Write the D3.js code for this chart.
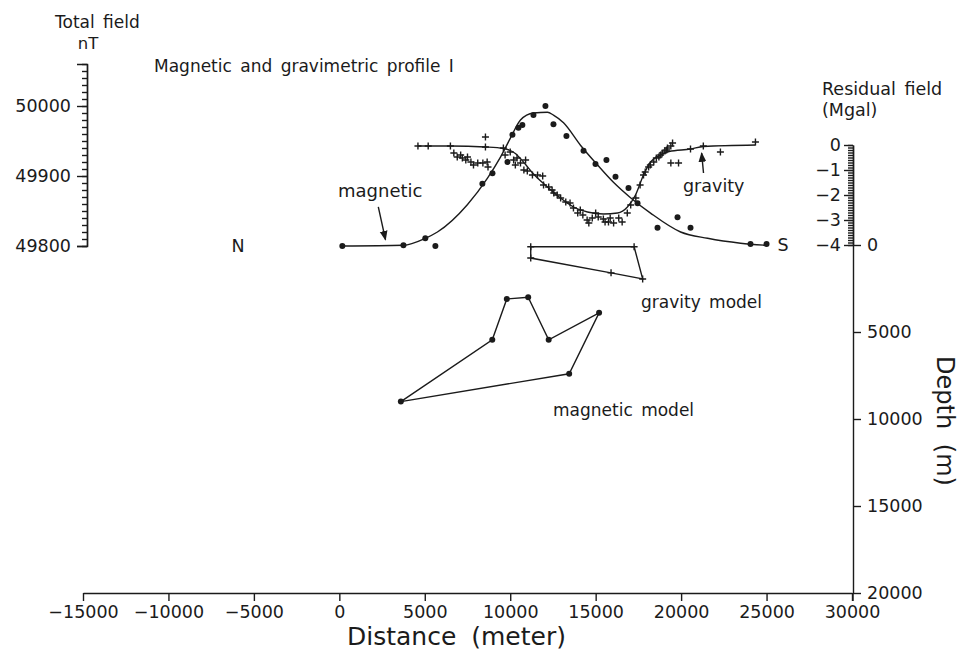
<!DOCTYPE html>
<html>
<head>
<meta charset="utf-8">
<script src="https://cdn.jsdelivr.net/npm/d3@7"></script>
<style>
  body { margin: 0; background: #fff; }
  #container { width: 963px; height: 652px; position: relative; }
  svg text { font-family: "DejaVu Sans", sans-serif; fill: #1b1b1b; }
  .axis path, .axis line { stroke: #1b1b1b; stroke-width: 1.4; }
</style>
</head>
<body>
<div id="container"></div>
<script>
// tick values
const distanceTicks = [-15000, -10000, -5000, 0, 5000, 10000, 15000, 20000, 25000, 30000];
const fieldTicks = [49800, 49900, 50000];
const gravityTicks = [0, -1, -2, -3, -4];
const depthTicks = [0, 5000, 10000, 15000, 20000];

// magnetic profile: observed total field (distance m, nT)
const magneticObserved = [[176,49800],[3750,49801],[5030,49811],[5620,49800],[8370,49889],[8960,49904],
  [9840,49920],[10130,49959],[10480,49969],[10710,49973],[11360,49987],[12060,50000],[12530,49974],
  [13290,49957],[14290,49936],[14990,49917],[15630,49923],[16160,49899],[16920,49883],[17450,49861],
  [18620,49826],[19790,49841],[20550,49826],[24060,49803],[25000,49803]];

// magnetic profile: computed curve
const magneticCurve = [[176,49800],[3750,49801],[5030,49811],[5740,49820],[7490,49859],[8670,49897],
  [9430,49927],[10010,49954],[10600,49980],[11360,49990],[12180,49991],[12530,49987],[13120,49976],
  [14110,49944],[15100,49916],[16040,49891],[17040,49869],[18210,49847],[19970,49820],[21550,49811],
  [23480,49804],[25000,49801]];

// gravity profile: observed residual (distance m, mGal)
const gravityObserved = [[4600,-0.04],[5200,-0.04],[6500,-0.04],[8550,-0.08],[8550,0.32],[9600,-0.12],
  [6700,-0.32],[6900,-0.48],[7100,-0.4],[7200,-0.52],[7400,-0.6],[7500,-0.48],[7700,-0.68],[7850,-0.8],
  [8100,-0.72],[8400,-0.72],[8650,-0.68],[8700,-0.88],[9700,-0.4],[10000,-0.28],[10200,-0.6],[10400,-0.52],
  [10300,-0.8],[10600,-0.72],[10900,-0.6],[10800,-1.0],[11000,-1.04],[11300,-1.2],[11600,-1.2],[11900,-1.24],
  [11950,-1.6],[12250,-1.68],[12450,-1.8],[12550,-1.92],[12750,-2.0],[12950,-2.12],[13250,-2.28],[13500,-2.32],
  [13700,-2.52],[13950,-2.72],[14100,-2.6],[14250,-2.8],[14500,-3.0],[14600,-3.12],[14800,-2.92],[15000,-2.72],
  [15150,-2.88],[15450,-2.96],[15550,-3.08],[15750,-3.08],[15850,-2.92],[16050,-3.12],[16350,-2.92],
  [16550,-3.08],[16850,-2.72],[17050,-2.4],[17350,-2.12],[17600,-1.6],[17800,-1.2],[17900,-1.08],
  [18100,-0.88],[18200,-0.8],[18400,-0.68],[18550,-0.52],[18700,-0.48],[18800,-0.4],[18900,-0.32],
  [19050,-0.24],[19150,-0.2],[19200,-0.12],[19400,-0.04],[19500,0.08],[19400,-0.72],[19850,-0.72],
  [20550,-0.16],[21300,-0.04],[22300,-0.28],[24350,0.12]];

// gravity profile: computed curve
const gravityCurve = [[4600,-0.04],[6500,-0.04],[8550,-0.08],[9600,-0.14],[10300,-0.34],[10800,-0.7],
  [11350,-1.15],[12180,-1.68],[12940,-2.12],[13700,-2.48],[14520,-2.68],[15460,-2.76],[16280,-2.72],
  [16860,-2.48],[17330,-2.0],[17800,-1.2],[18210,-0.68],[18800,-0.4],[19300,-0.26],[20550,-0.16],
  [21310,-0.06],[24350,0]];

// model bodies (distance m, depth m)
const gravityBody = [[11200,100],[17250,100],[17750,1950],[15900,1600],[11200,750]];
const magneticBody = [[3600,9000],[8950,5450],[9800,3100],[11050,3000],[12250,5450],[15200,3900],[13450,7400]];

const container = d3.select("#container");
const width = 963, height = 652;
const svg = container.append("svg").attr("width", width).attr("height", height);

const x = d3.scaleLinear().domain([-15000, 30000]).range([83, 852]);
const yField = d3.scaleLinear().domain([49800, 50060]).range([246, 64]);
const yGrav = d3.scaleLinear().domain([-4, 0]).range([245, 145]);
const yDepth = d3.scaleLinear().domain([0, 20000]).range([245, 593]);

const ink = "#1b1b1b";

svg.append("defs").append("marker")
   .attr("id", "head")
   .attr("viewBox", "0 0 10 10")
   .attr("refX", 9).attr("refY", 5)
   .attr("markerWidth", 7).attr("markerHeight", 7)
   .attr("orient", "auto")
   .append("path").attr("d", "M0,1L10,5L0,9Z").attr("fill", ink);

// left axis: total field
const leftArea = svg.append("g").attr("class", "axis").attr("transform", "translate(87,0)");
leftArea.append("g")
  .call(d3.axisLeft(yField).tickValues(d3.range(49800, 50061, 10)).tickSize(5).tickSizeOuter(0).tickFormat(""));
leftArea.append("g")
  .call(d3.axisLeft(yField).tickValues(fieldTicks).tickSize(10).tickSizeOuter(10).tickPadding(6).tickFormat(d3.format("d")))
  .selectAll("text").style("font-size", "17.5px").attr("fill", ink);

// bottom axis: distance
const xAxisArea = svg.append("g").attr("class", "axis").attr("transform", "translate(0," + yDepth(20000) + ")");
xAxisArea.call(d3.axisBottom(x).tickValues(distanceTicks).tickSize(8).tickSizeOuter(0).tickPadding(5).tickFormat(d3.format("d")))
  .selectAll("text").style("font-size", "17.5px").attr("fill", ink);

// right axes: gravity (top) and depth (below)
const rightX = x(30000) + 1;
const gravArea = svg.append("g").attr("class", "axis").attr("transform", "translate(" + rightX + ",0)");
gravArea.append("g")
  .call(d3.axisLeft(yGrav).tickValues(d3.range(-40, 1).map(v => v / 10)).tickSize(5).tickSizeOuter(0).tickFormat(""));
gravArea.append("g")
  .call(d3.axisLeft(yGrav).tickValues(gravityTicks).tickSize(9).tickSizeOuter(0).tickPadding(3).tickFormat(d3.format("d")))
  .selectAll("text").style("font-size", "17.5px").attr("fill", ink);

const depthArea = svg.append("g").attr("class", "axis").attr("transform", "translate(" + rightX + ",0)");
depthArea.call(d3.axisRight(yDepth).tickValues(depthTicks).tickSize(8).tickSizeOuter(0).tickPadding(6).tickFormat(d3.format("d")))
  .selectAll("text").style("font-size", "17.5px").attr("fill", ink);
depthArea.append("line").attr("x1", 0).attr("x2", 0).attr("y1", yDepth(20000)).attr("y2", yDepth(20000) + 8).attr("stroke", ink).attr("stroke-width", 1.4);

// axis titles and labels
const label = (tx, ty, txt, size, anchor) =>
  svg.append("text").attr("x", tx).attr("y", ty).attr("text-anchor", anchor || "start")
     .style("font-size", size + "px").style("word-spacing", "3px").text(txt);

label(55, 28, "Total field", 17);
label(88, 49, "nT", 16.5, "middle");
label(154, 72, "Magnetic and gravimetric profile I", 17);
label(822, 95, "Residual field", 17.5);
label(822, 116, "(Mgal)", 17.5);
label(238, 252, "N", 17.5, "middle");
label(783, 251, "S", 17.5, "middle");
label(641, 308, "gravity model", 17);
label(553, 416, "magnetic model", 17);
label(338, 197, "magnetic", 18);
label(683, 192, "gravity", 17.5);
label(347, 645, "Distance (meter)", 25).style("word-spacing", "7px");
svg.append("text")
  .attr("transform", "translate(937,421) rotate(90)")
  .attr("text-anchor", "middle")
  .style("font-size", "24px").style("word-spacing", "7px")
  .text("Depth (m)");

// arrows
svg.append("line")
  .attr("x1", x(2280)).attr("y1", yField(49856)).attr("x2", x(2700)).attr("y2", yField(49809))
  .attr("stroke", ink).attr("stroke-width", 1.4).attr("marker-end", "url(#head)");
svg.append("line")
  .attr("x1", x(21310)).attr("y1", yGrav(-1.12)).attr("x2", x(21200)).attr("y2", yGrav(-0.32))
  .attr("stroke", ink).attr("stroke-width", 1.4).attr("marker-end", "url(#head)");

const plot = svg.append("g");

// computed curves
plot.append("path").datum(magneticCurve)
  .attr("d", d3.line().x(d => x(d[0])).y(d => yField(d[1])).curve(d3.curveMonotoneX))
  .attr("fill", "none").attr("stroke", ink).attr("stroke-width", 1.4);
plot.append("path").datum(gravityCurve)
  .attr("d", d3.line().x(d => x(d[0])).y(d => yGrav(d[1])).curve(d3.curveMonotoneX))
  .attr("fill", "none").attr("stroke", ink).attr("stroke-width", 1.4);

// observations
const plus = "M-3.5,0H3.5M0,-3.5V3.5";
plot.selectAll(".gobs").data(gravityObserved).join("path")
  .attr("class", "gobs")
  .attr("transform", d => "translate(" + x(d[0]) + "," + yGrav(d[1]) + ")")
  .attr("d", plus).attr("stroke", ink).attr("stroke-width", 1.4);
plot.selectAll(".mobs").data(magneticObserved).join("circle")
  .attr("class", "mobs")
  .attr("cx", d => x(d[0])).attr("cy", d => yField(d[1])).attr("r", 3).attr("fill", ink);

// model bodies
const bodyLine = d3.line().x(d => x(d[0])).y(d => yDepth(d[1])).curve(d3.curveLinearClosed);
plot.append("path").datum(gravityBody).attr("d", bodyLine)
  .attr("fill", "none").attr("stroke", ink).attr("stroke-width", 1.4);
plot.selectAll(".gv").data(gravityBody).join("path")
  .attr("class", "gv")
  .attr("transform", d => "translate(" + x(d[0]) + "," + yDepth(d[1]) + ")")
  .attr("d", plus).attr("stroke", ink).attr("stroke-width", 1.4);
plot.append("path").datum(magneticBody).attr("d", bodyLine)
  .attr("fill", "none").attr("stroke", ink).attr("stroke-width", 1.4);
plot.selectAll(".mv").data(magneticBody).join("circle")
  .attr("class", "mv")
  .attr("cx", d => x(d[0])).attr("cy", d => yDepth(d[1])).attr("r", 3).attr("fill", ink);
</script>
</body>
</html>
